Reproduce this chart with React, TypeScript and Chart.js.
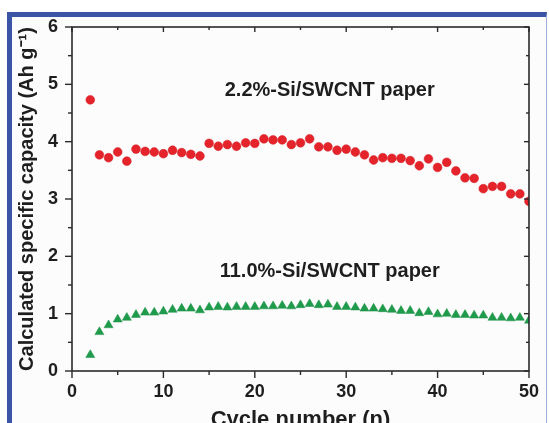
import React, { useEffect, useRef } from "react";
import { Chart, registerables } from "chart.js";
Chart.register(...registerables);

const cycles = [2, 3, 4, 5, 6, 7, 8, 9, 10, 11, 12, 13, 14, 15, 16, 17, 18, 19, 20, 21, 22, 23, 24, 25, 26, 27, 28, 29, 30, 31, 32, 33, 34, 35, 36, 37, 38, 39, 40, 41, 42, 43, 44, 45, 46, 47, 48, 49, 50];
const capacityLowSi = [4.73, 3.77, 3.72, 3.82, 3.66, 3.87, 3.83, 3.82, 3.79, 3.85, 3.81, 3.78, 3.75, 3.97, 3.92, 3.95, 3.92, 3.98, 3.97, 4.05, 4.03, 4.03, 3.95, 3.98, 4.05, 3.91, 3.91, 3.85, 3.87, 3.82, 3.77, 3.68, 3.72, 3.71, 3.71, 3.67, 3.58, 3.7, 3.55, 3.64, 3.49, 3.37, 3.36, 3.18, 3.22, 3.22, 3.09, 3.09, 2.96];
const capacityHighSi = [0.28, 0.68, 0.8, 0.9, 0.93, 0.98, 1.02, 1.02, 1.04, 1.07, 1.09, 1.09, 1.06, 1.11, 1.12, 1.11, 1.12, 1.12, 1.12, 1.13, 1.13, 1.14, 1.13, 1.15, 1.17, 1.15, 1.16, 1.12, 1.12, 1.11, 1.09, 1.09, 1.08, 1.07, 1.05, 1.05, 1.01, 1.03, 0.99, 1.0, 0.98, 0.98, 0.97, 0.97, 0.93, 0.93, 0.92, 0.93, 0.88];
const xTicks = [0, 10, 20, 30, 40, 50];
const xMinorTicks = [5, 15, 25, 35, 45];
const yTicks = [0, 1, 2, 3, 4, 5, 6];
const yMinorTicks = [0.5, 1.5, 2.5, 3.5, 4.5, 5.5];
const labelLowSi = "2.2%-Si/SWCNT paper";
const labelHighSi = "11.0%-Si/SWCNT paper";
const labelLowSiPos = { x: 28.2, y: 4.9 };
const labelHighSiPos = { x: 28.2, y: 1.73 };
const xTitle = "Cycle number (n)";
const yTitle = "Calculated specific capacity (Ah g\u207B\u00B9)";

const FONT = "'Liberation Sans', Arial, Helvetica, sans-serif";
const AXIS_COLOR = "#2a2a2a";

const framePlugin = {
  id: "frameTicks",
  afterDatasetsDraw(chart: any) {
    const { ctx, chartArea } = chart;
    const xs = chart.scales.x;
    const ys = chart.scales.y;
    const { left, right, top, bottom } = chartArea;
    ctx.save();
    ctx.strokeStyle = AXIS_COLOR;
    ctx.lineWidth = 1.6;
    ctx.strokeRect(left, top, right - left, bottom - top);
    ctx.lineWidth = 1.4;
    const seg = (x1: number, y1: number, x2: number, y2: number) => {
      ctx.beginPath();
      ctx.moveTo(x1, y1);
      ctx.lineTo(x2, y2);
      ctx.stroke();
    };
    xTicks.forEach((v) => {
      const p = xs.getPixelForValue(v);
      seg(p, bottom, p, bottom + 7);
      seg(p, top, p, top + 5);
    });
    xMinorTicks.forEach((v) => {
      const p = xs.getPixelForValue(v);
      seg(p, bottom, p, bottom + 4);
      seg(p, top, p, top + 3);
    });
    yTicks.forEach((v) => {
      const p = ys.getPixelForValue(v);
      seg(left - 7, p, left, p);
      seg(right - 5, p, right, p);
    });
    yMinorTicks.forEach((v) => {
      const p = ys.getPixelForValue(v);
      seg(left - 4, p, left, p);
      seg(right - 3, p, right, p);
    });
    ctx.fillStyle = "#1e1e1e";
    ctx.font = `bold 20px ${FONT}`;
    ctx.textAlign = "center";
    ctx.textBaseline = "middle";
    ctx.fillText(labelLowSi, xs.getPixelForValue(labelLowSiPos.x), ys.getPixelForValue(labelLowSiPos.y));
    ctx.fillText(labelHighSi, xs.getPixelForValue(labelHighSiPos.x), ys.getPixelForValue(labelHighSiPos.y));
    ctx.restore();
  },
};

export default function App() {
  const canvasRef = useRef<HTMLCanvasElement | null>(null);

  useEffect(() => {
    const canvas = canvasRef.current;
    if (!canvas) return;
    const chart = new Chart(canvas, {
      type: "scatter",
      data: {
        datasets: [
          {
            label: labelLowSi,
            data: cycles.map((c, i) => ({ x: c, y: capacityLowSi[i] })),
            backgroundColor: "#e5232a",
            borderColor: "#d51c23",
            borderWidth: 0.5,
            pointStyle: "circle",
            pointRadius: 4.4,
            clip: { left: 10, top: 10, right: 0, bottom: 10 },
          },
          {
            label: labelHighSi,
            data: cycles.map((c, i) => ({ x: c, y: capacityHighSi[i] })),
            backgroundColor: "#1f9c4b",
            borderColor: "#1a8f43",
            borderWidth: 0.5,
            pointStyle: "triangle",
            pointRadius: 5.2,
            clip: { left: 10, top: 10, right: 0, bottom: 10 },
          },
        ],
      },
      options: {
        responsive: false,
        maintainAspectRatio: false,
        animation: false,
        layout: { padding: { left: 0, top: 27, right: 11, bottom: 0 } },
        plugins: {
          legend: { display: false },
          tooltip: { enabled: false },
        },
        scales: {
          x: {
            type: "linear",
            min: 0,
            max: 50,
            afterBuildTicks: (s: any) => {
              s.ticks = xTicks.map((v) => ({ value: v }));
            },
            afterFit: (s: any) => {
              s.height = 52;
            },
            grid: { display: false, drawTicks: false },
            border: { display: false },
            ticks: {
              padding: 10,
              color: "#1e1e1e",
              font: { family: FONT, size: 18, weight: "bold" },
              maxRotation: 0,
            },
            title: {
              display: true,
              text: xTitle,
              color: "#1e1e1e",
              font: { family: FONT, size: 22, weight: "bold" },
              padding: { top: 0, bottom: -10 },
            },
          },
          y: {
            type: "linear",
            min: 0,
            max: 6,
            afterBuildTicks: (s: any) => {
              s.ticks = yTicks.map((v) => ({ value: v }));
            },
            afterFit: (s: any) => {
              s.width = 72;
            },
            grid: { display: false, drawTicks: false },
            border: { display: false },
            ticks: {
              padding: 14,
              color: "#1e1e1e",
              font: { family: FONT, size: 18, weight: "bold" },
            },
            title: {
              display: true,
              text: yTitle,
              color: "#1e1e1e",
              font: { family: FONT, size: 20, weight: "bold" },
              padding: { top: 15, bottom: 0 },
            },
          },
        },
      },
      plugins: [framePlugin],
    } as any);
    return () => chart.destroy();
  }, []);

  return (
    <div
      style={{
        position: "fixed",
        left: 0,
        top: 0,
        width: 549,
        height: 423,
        overflow: "hidden",
        background: "#ffffff",
      }}
    >
      <div
        style={{
          position: "absolute",
          left: 7,
          top: 12,
          width: 534,
          height: 500,
          borderLeft: "5px solid #3a55a6",
          borderTop: "5px solid #3a55a6",
          borderRight: "1px solid #9fb1d9",
          background: "#fcfcfd",
        }}
      />
      <canvas
        ref={canvasRef}
        width={549}
        height={423}
        style={{ position: "absolute", left: 0, top: 0, width: 549, height: 423, display: "block" }}
      />
    </div>
  );
}
